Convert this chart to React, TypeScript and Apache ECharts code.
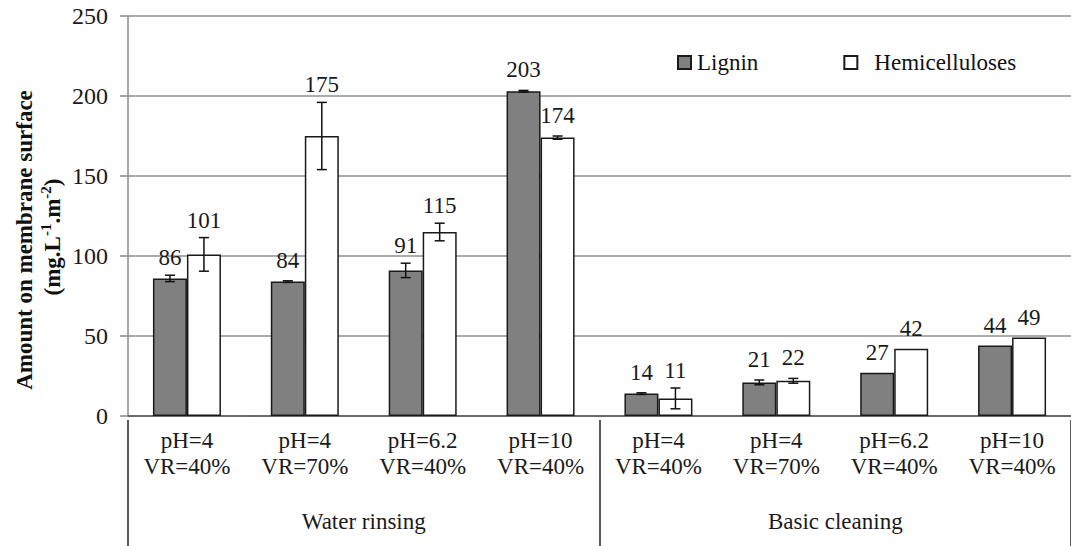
import React, { useEffect, useRef } from "react";
import * as echarts from "echarts";

const categories = [
  "pH=4\nVR=40%",
  "pH=4\nVR=70%",
  "pH=6.2\nVR=40%",
  "pH=10\nVR=40%",
  "pH=4\nVR=40%",
  "pH=4\nVR=70%",
  "pH=6.2\nVR=40%",
  "pH=10\nVR=40%",
];
const groups = ["Water rinsing", "Basic cleaning"];
const lignin = [86, 84, 91, 203, 14, 21, 27, 44];
const ligninErr = [2, 0.5, 4.5, 0.5, 0.5, 1.5, 0, 0];
const hemi = [101, 175, 115, 174, 11, 22, 42, 49];
const hemiErr = [10.5, 21, 5.5, 1, 6.5, 1.5, 0, 0];
const yMin = 0;
const yMax = 250;
const yInterval = 50;

const FONT = "Liberation Serif";
const BAR_W = 34;

function errSeries(name: string, values: number[], errs: number[], side: number) {
  return {
    type: "custom",
    name,
    xAxisIndex: 0,
    yAxisIndex: 0,
    z: 5,
    silent: true,
    data: values.map((v, i) => [i, v, errs[i]]),
    renderItem: (params: any, api: any) => {
      const i = api.value(0);
      const v = api.value(1);
      const e = api.value(2);
      const c = api.coord([i, v]);
      const x = c[0] + (side * BAR_W) / 2;
      const top = api.coord([i, v + e])[1];
      const bot = api.coord([i, v - e])[1];
      const children: any[] = [];
      const ls = { stroke: "#111", lineWidth: 1.5 };
      if (e > 0) {
        children.push({ type: "line", shape: { x1: x, y1: top, x2: x, y2: bot }, style: ls });
        children.push({ type: "line", shape: { x1: x - 5, y1: top, x2: x + 5, y2: top }, style: ls });
        children.push({ type: "line", shape: { x1: x - 5, y1: bot, x2: x + 5, y2: bot }, style: ls });
      }
      children.push({
        type: "text",
        x,
        y: Math.min(top, c[1]) - (e < 2 ? 9 : 6),
        style: {
          text: String(v),
          fill: "#1a1a1a",
          fontFamily: FONT,
          fontSize: 23,
          align: "center",
          verticalAlign: "bottom",
        },
      });
      return { type: "group", children };
    },
  };
}

export default function App() {
  const ref = useRef<HTMLDivElement>(null);
  useEffect(() => {
    if (!ref.current) return;
    const chart = echarts.init(ref.current, null, { renderer: "svg" });
    const option: any = {
      animation: false,
      backgroundColor: "#fff",
      textStyle: { fontFamily: FONT },
      grid: { left: 128, top: 16, width: 948, bottom: 130 },
      legend: {
        data: ["Lignin", "Hemicelluloses"],
        left: 672,
        top: 46,
        icon: "rect",
        itemWidth: 13,
        itemHeight: 13,
        itemGap: 85,
        formatter: (n: string) => (n === "Lignin" ? `{l|${n}}` : `{h|${n}}`),
        textStyle: {
          fontSize: 23,
          fontFamily: FONT,
          color: "#111",
          rich: {
            l: { fontSize: 23, fontFamily: FONT, color: "#111", padding: [0, 0, 0, 1] },
            h: { fontSize: 23, fontFamily: FONT, color: "#111", padding: [0, 0, 0, 12] },
          },
        },
      },
      xAxis: [
        {
          type: "category",
          data: categories,
          axisLine: { show: true, lineStyle: { color: "#555", width: 1.5 } },
          axisTick: { show: false },
          axisLabel: {
            interval: 0,
            margin: 11,
            fontSize: 23,
            lineHeight: 26,
            color: "#1a1a1a",
            fontFamily: FONT,
          },
        },
        {
          type: "category",
          data: groups,
          position: "bottom",
          offset: 4,
          axisLine: { show: false },
          axisTick: { show: true, length: 128, lineStyle: { color: "#222", width: 1.5 } },
          axisLabel: {
            interval: 0,
            margin: 90,
            fontSize: 23,
            color: "#1a1a1a",
            fontFamily: FONT,
          },
        },
      ],
      yAxis: {
        type: "value",
        min: yMin,
        max: yMax,
        interval: yInterval,
        axisLine: { show: true, lineStyle: { color: "#888", width: 1.5 } },
        axisTick: { show: true, length: 8, lineStyle: { color: "#888", width: 1.5 } },
        axisLabel: { fontSize: 24, color: "#1a1a1a", margin: 20, fontFamily: FONT },
        splitLine: { show: true, lineStyle: { color: "#909090", width: 1.5 } },
      },
      series: [
        {
          type: "bar",
          name: "Lignin",
          data: lignin,
          barWidth: BAR_W,
          barGap: "0%",
          itemStyle: { color: "#808080", borderColor: "#1a1a1a", borderWidth: 1.5 },
        },
        {
          type: "bar",
          name: "Hemicelluloses",
          data: hemi,
          barWidth: BAR_W,
          barGap: "0%",
          itemStyle: { color: "#ffffff", borderColor: "#1a1a1a", borderWidth: 1.5 },
        },
        errSeries("ligninErr", lignin, ligninErr, -1),
        errSeries("hemiErr", hemi, hemiErr, 1),
      ],
      graphic: [
        {
          type: "text",
          x: 24,
          y: 240,
          rotation: Math.PI / 2,
          style: {
            text: "Amount on membrane surface",
            fontFamily: FONT,
            fontWeight: "bold",
            fontSize: 23,
            fill: "#111",
            align: "center",
            verticalAlign: "middle",
          },
        },
        {
          type: "text",
          x: 51,
          y: 237,
          rotation: Math.PI / 2,
          style: {
            text: "{b|(mg.L}{s|-1}{b|.m}{s|-2}{b|)}",
            align: "center",
            verticalAlign: "middle",
            rich: {
              b: { fontFamily: FONT, fontWeight: "bold", fontSize: 23, fill: "#111", lineHeight: 26, verticalAlign: "bottom" },
              s: { fontFamily: FONT, fontWeight: "bold", fontSize: 15, fill: "#111", lineHeight: 26, verticalAlign: "top" },
            },
          },
        },
      ],
    };
    chart.setOption(option);
    return () => chart.dispose();
  }, []);
  return (
    <div
      ref={ref}
      style={{ position: "absolute", left: 0, top: 0, width: 1071, height: 546 }}
    />
  );
}
